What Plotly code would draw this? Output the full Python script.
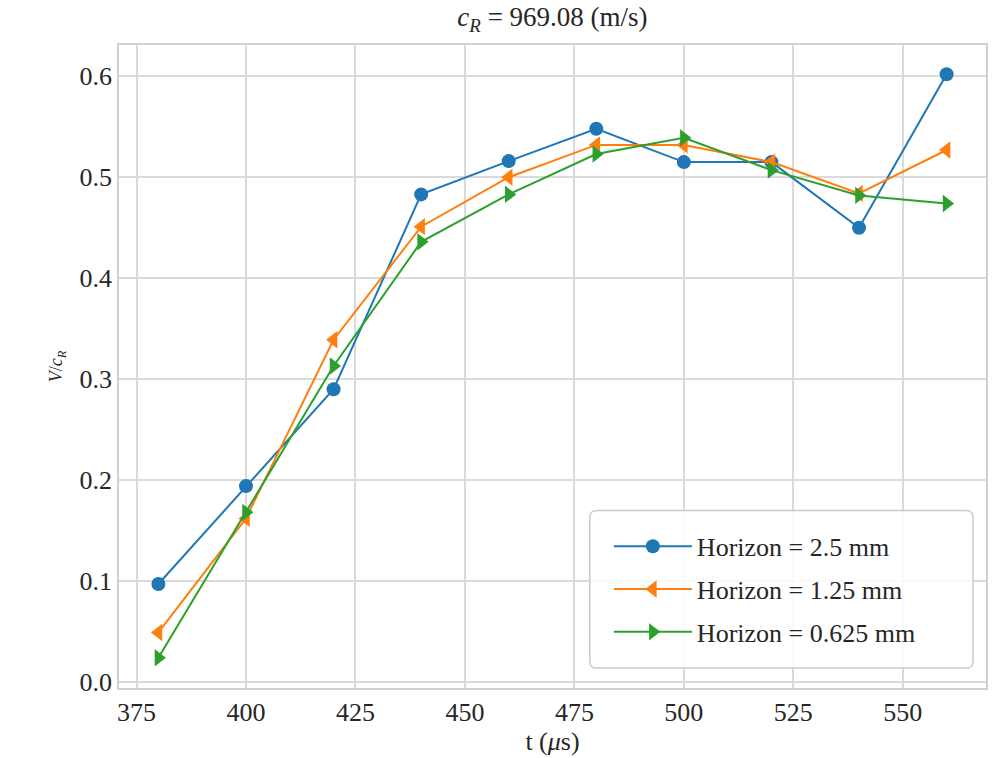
import plotly.graph_objects as go

t = [380, 400, 420, 440, 460, 480, 500, 520, 540, 560]
v_h25 = [0.097, 0.194, 0.290, 0.483, 0.516, 0.548, 0.515, 0.515, 0.450, 0.602]
v_h125 = [0.049, 0.162, 0.339, 0.451, 0.500, 0.532, 0.532, 0.515, 0.484, 0.527]
v_h0625 = [0.024, 0.168, 0.313, 0.436, 0.483, 0.523, 0.539, 0.507, 0.482, 0.474]

names = ["Horizon = 2.5 mm", "Horizon = 1.25 mm", "Horizon = 0.625 mm"]
colors = ["#1f77b4", "#ff7f0e", "#2ca02c"]
symbols = ["circle", "triangle-left", "triangle-right"]
series = [v_h25, v_h125, v_h0625]

font_family = "Liberation Serif, DejaVu Serif, serif"
txt = "#262626"

fig = go.Figure()
for i, (y, n, c, s) in enumerate(zip(series, names, colors, symbols)):
    fig.add_trace(go.Scatter(
        x=t, y=y, name=n, mode="lines+markers", legendgroup=f"g{i}",
        line=dict(color=c, width=2),
        marker=dict(symbol=s, size=14 if s == "circle" else 15, color=c),
    ))

axis_common = dict(
    showgrid=True, gridcolor="#dadada", gridwidth=1.5,
    showline=True, linecolor="#d0d0d0", linewidth=1.5, mirror=True,
    zeroline=False, ticks="", tickfont=dict(family=font_family, size=26, color=txt),
)

# rounded legend frame (paper coordinates)
x0, x1, y0, y1, r = 0.543, 0.985, 0.031, 0.276, 0.008
ry = r * 869 / 645
path = (f"M {x0+r},{y0} L {x1-r},{y0} Q {x1},{y0} {x1},{y0+ry} "
        f"L {x1},{y1-ry} Q {x1},{y1} {x1-r},{y1} L {x0+r},{y1} "
        f"Q {x0},{y1} {x0},{y1-ry} L {x0},{y0+ry} Q {x0},{y0} {x0+r},{y0} Z")

fig.update_layout(
    width=995, height=758,
    margin=dict(l=119, r=7, t=45, b=68),
    paper_bgcolor="white", plot_bgcolor="white",
    font=dict(family=font_family, color=txt),
    title=dict(text="<i>c</i><sub><i>R</i></sub> = 969.08 (m/s)",
               x=0.5, xanchor="center", xref="paper", y=0.99, yanchor="top",
               font=dict(family=font_family, size=27, color=txt)),
    xaxis=dict(range=[371, 569], tickvals=[375, 400, 425, 450, 475, 500, 525, 550],
               title=dict(text="t (<i>μ</i>s)", font=dict(family=font_family, size=26, color=txt),
                          standoff=6),
               **axis_common),
    yaxis=dict(range=[-0.006, 0.631], tickvals=[0, 0.1, 0.2, 0.3, 0.4, 0.5, 0.6],
               tickformat=".1f",
               title=dict(text="<i>V</i>/<i>c</i><sub><i>R</i></sub>",
                          font=dict(family=font_family, size=18, color=txt),
                          standoff=12),
               **axis_common),
    shapes=[dict(type="path", xref="paper", yref="paper", path=path,
                 fillcolor="rgba(255,255,255,0.85)", line=dict(color="#cccccc", width=1.5),
                 layer="above")],
    legend=dict(x=0.565, y=(y0 + y1) / 2, xanchor="left", yanchor="middle",
                bgcolor="rgba(0,0,0,0)", borderwidth=0,
                font=dict(family=font_family, size=26, color=txt),
                itemwidth=78, tracegroupgap=6),
)

fig.write_html("out.html")
